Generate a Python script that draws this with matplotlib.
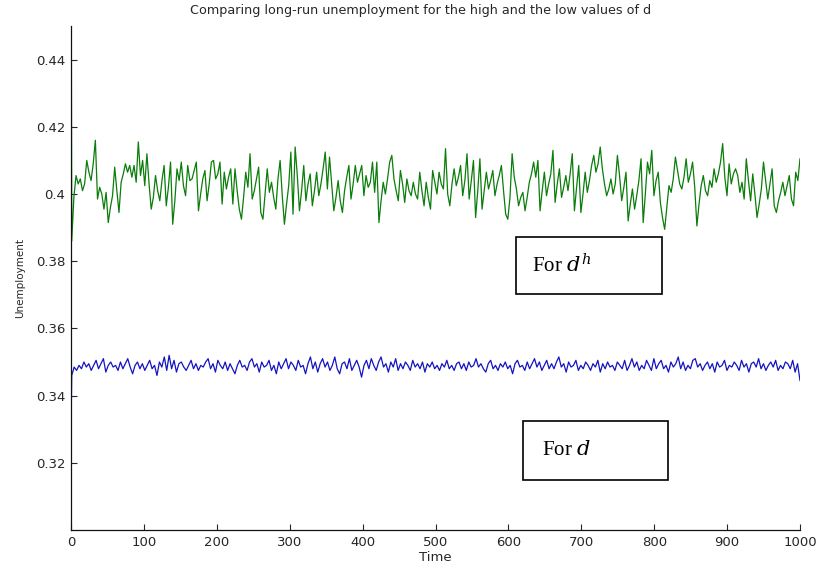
import matplotlib
matplotlib.use("Agg")
import matplotlib.pyplot as plt
from matplotlib.patches import Rectangle
import numpy as np

# Unemployment paths, in thousandths (0.001 units)
green_start = [500]  # value at t = 0 (runs off the top of the axes)
green_path = [
    386, 399, 405.5, 403, 404.5, 401, 403, 410, 406.5, 404, 409, 416, 398.5, 402, 400, 395.5,
    400.5, 391.5, 396, 399.5, 408, 401, 394.5, 403.5, 406, 409, 406.5, 408.5, 405, 408.5, 403.5,
    415.5, 405.5, 410, 402.5, 412, 403, 395.5, 399, 405.5, 401, 398, 404, 408.5, 396.5, 402,
    409.5, 391, 398, 407.5, 404, 409.5, 402.5, 399.5, 408.5, 404, 404.5, 407, 409.5, 395, 400,
    404.5, 407, 398, 403, 409.5, 410, 404.5, 406, 409.5, 397, 406.5, 401.5, 405, 407.5, 397,
    407.5, 401, 395.5, 392.5, 399, 406.5, 402, 412, 398.5, 401, 404.5, 408, 394.5, 392.5, 400,
    407.5, 400.5, 403.5, 399, 395.5, 404.5, 410, 399.5, 391, 397, 402.5, 412.5, 394, 414, 405.5,
    395, 401, 408.5, 398, 403, 406, 396.5, 401, 406.5, 399.5, 403, 407.5, 412.5, 401.5, 411, 403,
    395, 399, 404, 398, 394.5, 401, 405, 408.5, 398.5, 403, 408.5, 403.5, 406, 408.5, 399.5,
    405.5, 402, 403.5, 409.5, 400.5, 409.5, 391.5, 398, 403.5, 400, 404.5, 409.5, 411.5, 404.5,
    401, 398, 407, 403, 397.5, 404.5, 401, 399.5, 403.5, 400, 398.5, 406.5, 401, 396.5, 403.5,
    399, 395.5, 407, 403.5, 400, 406.5, 403, 401.5, 413.5, 400, 396.5, 403, 407.5, 402.5, 405,
    408.5, 399.5, 404, 412, 398.5, 404, 410, 393, 401, 410.5, 395.5, 401, 406.5, 401.5, 404, 407,
    399.5, 403, 405.5, 408.5, 401, 394, 392.5, 399, 412, 405, 401.5, 396.5, 399, 400.5, 395, 399,
    403.5, 406, 409.5, 405, 410, 395, 401, 406.5, 399.5, 403, 406, 413, 397.5, 403, 407.5, 399,
    402, 405.5, 401, 406, 412, 395, 402, 408.5, 394.5, 400, 406.5, 400.5, 404, 408.5, 411.5,
    406.5, 409, 414, 407.5, 403, 399.5, 401.5, 404.5, 400, 403, 411.5, 405.5, 398, 402, 406.5,
    392, 397, 401.5, 395.5, 399.5, 404, 410.5, 391.5, 400, 409.5, 406, 413, 399.5, 404, 406.5,
    397.5, 393, 389.5, 396, 402.5, 400.5, 404.5, 411, 407, 403, 401.5, 405, 410.5, 403.5, 406,
    409.5, 402, 390.5, 397, 402.5, 405.5, 401, 399.5, 404, 402, 407.5, 403.5, 406, 409.5, 415,
    405, 399.5, 409, 403, 406, 407.5, 405.5, 400.5, 403.5, 398.5, 410.5, 404, 398, 406, 400, 393,
    397, 401.5, 409.5, 404, 398.5, 403, 407.5, 396.5, 394.5, 398, 400.5, 403.5, 399.5, 402.5,
    405.5, 398.5, 396.5, 406.5, 404, 410.5,
]

blue_start = [330]  # value at t = 0
blue_path = [
    346, 348.5, 347.5, 349, 348, 350, 348.5, 349.5, 347.5, 349, 350.5, 348, 349.5, 351, 347, 349,
    350, 348.5, 349, 347.5, 350, 348, 349.5, 351, 348.5, 346.5, 349, 350, 348, 349.5, 347.5, 349,
    350.5, 348, 349, 346, 350, 348.5, 351.5, 347.5, 352, 348, 350.5, 347, 349.5, 350, 348.5,
    347.5, 349, 350.5, 348, 349.5, 347.5, 349, 348.5, 350, 351, 348, 349.5, 347, 350.5, 349, 348,
    350, 347.5, 349.5, 348, 346.5, 349, 350.5, 348.5, 349, 347.5, 350, 351, 348.5, 349.5, 347,
    350, 348.5, 349, 350.5, 347.5, 349, 346.5, 350, 348, 349.5, 351, 348, 350, 349, 347.5, 350.5,
    348.5, 349, 346.5, 349.5, 351.5, 348, 350, 347, 349.5, 351, 348.5, 350, 347.5, 349, 351.5,
    348, 346.5, 349.5, 350, 348, 351, 347.5, 349, 350.5, 348.5, 345.5, 349, 350.5, 348, 351, 349,
    347.5, 350, 351.5, 348.5, 349.5, 347, 350, 348.5, 351, 347.5, 349.5, 348, 350, 349, 347.5,
    350.5, 348.5, 349.5, 348, 350, 347, 349.5, 348.5, 350, 348, 349, 347.5, 349.5, 348.5, 350.5,
    348, 349, 347.5, 349.5, 350, 348, 349.5, 347.5, 350, 348.5, 349, 351, 348.5, 349.5, 348, 347,
    349.5, 350.5, 348, 349, 347.5, 349.5, 348.5, 350, 348, 349, 346.5, 349.5, 350.5, 348.5, 349,
    347.5, 350, 348, 349.5, 351, 348.5, 350, 347.5, 349, 350.5, 348, 349.5, 348, 350, 351.5,
    348.5, 349.5, 347, 350, 348.5, 349, 350.5, 347.5, 349, 348, 350, 349, 347.5, 349.5, 348.5,
    350.5, 347, 349.5, 348, 350, 348.5, 349, 347.5, 350, 349, 348, 350.5, 347.5, 349, 351, 348.5,
    350, 347.5, 349, 348, 350.5, 349, 347.5, 351, 348, 349.5, 350.5, 348, 349, 347, 350, 348.5,
    349.5, 351.5, 348, 350, 347.5, 349, 348, 350.5, 351, 348.5, 349.5, 347.5, 349, 350, 348,
    349.5, 347, 350, 348.5, 349, 350.5, 347.5, 349, 348.5, 350, 349, 347.5, 350.5, 348.5, 349.5,
    347, 349.5, 350, 348.5, 351, 348, 349.5, 347.5, 349, 350, 348.5, 350.5, 347.5, 349, 348, 350,
    349.5, 348, 350.5, 347, 349.5, 344.5,
]

x_ticks = [0, 100, 200, 300, 400, 500, 600, 700, 800, 900, 1000]
y_ticks = [0.32, 0.34, 0.36, 0.38, 0.40, 0.42, 0.44]
y_tick_labels = ["0.32", "0.34", "0.36", "0.38", "0.4", "0.42", "0.44"]

title_text = "Comparing long-run unemployment for the high and the low values of d"

green_vals = np.array(green_start + green_path) / 1000.0
blue_vals = np.array(blue_start + blue_path) / 1000.0
green_t = np.concatenate([[0.0], np.linspace(1, 1000, len(green_path))])
blue_t = np.concatenate([[0.0], np.linspace(1, 1000, len(blue_path))])

sans = "DejaVu Sans"
serif_family = "Liberation Serif"
text_color = "#262626"

fig = plt.figure(figsize=(8.17, 5.66), dpi=100)
ax = fig.add_axes([0.0869, 0.0636, 0.8923, 0.8904])

ax.plot(green_t, green_vals, color="#0a7d0a", lw=0.9)
ax.plot(blue_t, blue_vals, color="#1414c0", lw=0.9)

ax.set_xlim(0, 1000)
ax.set_ylim(0.30, 0.45)
ax.set_xticks(x_ticks)
ax.set_xticklabels([str(v) for v in x_ticks], fontsize=9.5, family=sans, color=text_color)
ax.set_yticks(y_ticks)
ax.set_yticklabels(y_tick_labels, fontsize=9.5, family=sans, color=text_color)
ax.tick_params(direction="in", length=4, width=0.8, pad=4, colors=text_color)

for side in ("top", "right"):
    ax.spines[side].set_visible(False)
for side in ("left", "bottom"):
    ax.spines[side].set_linewidth(0.9)
    ax.spines[side].set_color("#111111")

ax.set_xlabel("Time", fontsize=9.5, family=sans, labelpad=1.5, color=text_color)
ax.set_ylabel("Unemployment", fontsize=7.5, family=sans, labelpad=8, color=text_color)
ax.set_title(title_text, fontsize=9.2, family=sans, pad=9, color=text_color, x=0.479)

# Labelled boxes marking each series
for (x0, y0, w, h), label, (tx, ty) in [
    ((610, 0.3702, 201, 0.0170), "For $d^h$", (632, 0.3786)),
    ((620, 0.3149, 199, 0.0176), "For $d$", (646, 0.3237)),
]:
    ax.add_patch(Rectangle((x0, y0), w, h, fill=True, facecolor="white",
                           edgecolor="black", lw=1.2, zorder=3, clip_on=False))
    ax.text(tx, ty, label, fontsize=15, family=serif_family, va="center", ha="left",
            zorder=4, math_fontfamily="dejavuserif")

fig.savefig("out.png", dpi=100)
